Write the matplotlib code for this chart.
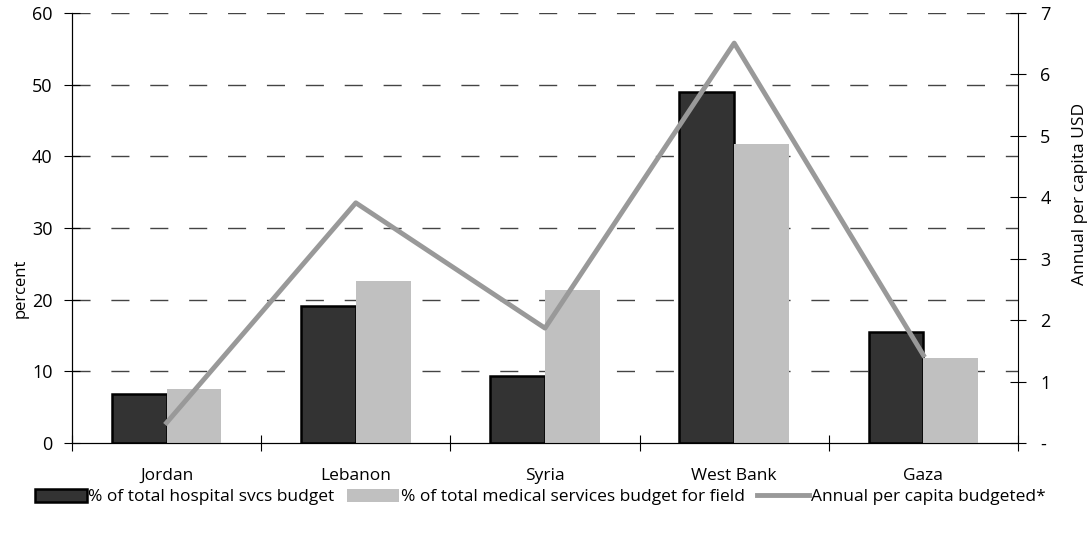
import matplotlib.pyplot as plt
import numpy as np

plt.rcParams['font.family'] = ['Open Sans', 'DejaVu Sans']

regions = ['Jordan', 'Lebanon', 'Syria', 'West Bank', 'Gaza']
# share of budgets (percent, left axis)
hospital = [6.9, 19.1, 9.3, 49.0, 15.5]
medical = [7.6, 22.6, 21.3, 41.7, 11.8]
# annual per capita budgeted (USD, right axis)
per_capita = [0.33, 3.91, 1.87, 6.51, 1.43]

x = np.arange(len(regions))
w = 0.29

fig = plt.figure(figsize=(10.91, 5.39), dpi=100)
ax = fig.add_axes([72/1091, 1-443/539, 946/1091, 430/539])

ax.bar(x - w/2, hospital, w, color='#333333', edgecolor='black', linewidth=1.8,
       label='% of total hospital svcs budget', zorder=3)
ax.bar(x + w/2, medical, w, color='#c0c0c0', linewidth=0,
       label='% of total medical services budget for field', zorder=3)

ax.set_xlim(-0.5, len(regions) - 0.5)
ax.set_ylim(0, 60)
ax.set_yticks(range(0, 61, 10))
ax.set_xticks(np.arange(-0.5, len(regions), 1.0))
ax.set_xticklabels([])
ax.set_xticks(x, minor=True)
ax.set_xticklabels(regions, minor=True)
ax.tick_params(axis='x', which='minor', length=0, pad=18, labelsize=12.5)
ax.tick_params(axis='x', which='major', direction='inout', length=12)
ax.tick_params(axis='y', direction='inout', length=12, labelsize=13, pad=8)
for v in range(10, 61, 10):
    ax.axhline(v, color='#444444', linewidth=1, dashes=(13, 15), zorder=1)
ax.spines['top'].set_visible(False)
ax.spines['right'].set_visible(False)
ax.set_ylabel('percent', fontsize=12)
ax.yaxis.set_label_coords(-0.046, 0.36)

ax2 = ax.twinx()
ax2.plot(x, per_capita, color='#999999', linewidth=3.5,
         label='Annual per capita budgeted*', zorder=4)
ax2.set_ylim(0, 7)
ax2.set_yticks(range(0, 8))
ax2.set_yticklabels(['-'] + [str(i) for i in range(1, 8)])
ax2.tick_params(axis='y', direction='inout', length=12, labelsize=13, pad=10)
ax2.spines['top'].set_visible(False)
ax2.set_ylabel('Annual per capita USD', fontsize=12.5)
ax2.yaxis.set_label_coords(1.057, 0.58)

h1, l1 = ax.get_legend_handles_labels()
h2, l2 = ax2.get_legend_handles_labels()
fig.legend(h1 + h2, l1 + l2, loc='center', bbox_to_anchor=(0.495, 1-497/539),
           ncol=3, frameon=False, fontsize=12.5, handlelength=3.0,
           handleheight=0.75, handletextpad=0.1, columnspacing=0.7)

fig.savefig('out.png', dpi=100)
